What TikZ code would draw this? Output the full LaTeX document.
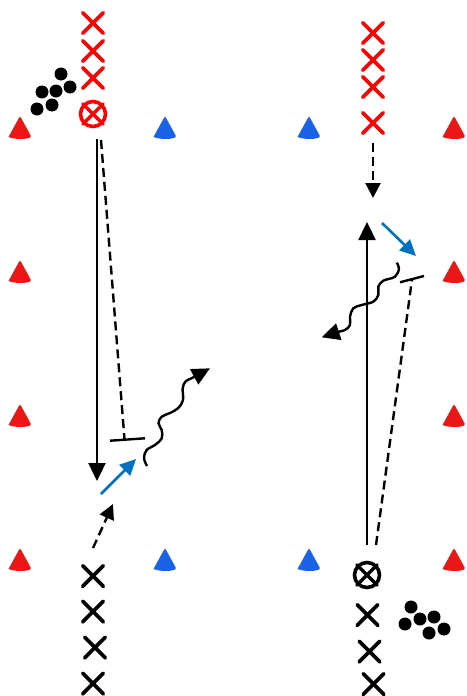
\documentclass[tikz,border=0pt]{standalone}
\usetikzlibrary{arrows.meta,shapes.misc}
\definecolor{conered}{RGB}{235,22,22}
\definecolor{coneblue}{RGB}{28,98,230}
\definecolor{passblue}{RGB}{0,112,192}
\definecolor{xred}{RGB}{255,0,0}
\begin{document}
\begin{tikzpicture}[x=1pt,y=-1pt,
  xmark/.style={cross out,draw,minimum size=17pt,inner sep=0pt,line width=3.8pt,line cap=round},
  oxmark/.style={circle,draw,minimum size=25pt,inner sep=0pt,line width=3.6pt},
  ball/.style={circle,fill=black,minimum size=13pt,inner sep=0pt},
  tip/.style={-{Triangle[length=18pt,width=17pt]}},
  smalltip/.style={-{Triangle[length=15pt,width=15pt]}},
  run/.style={line width=2.4pt,tip},
  dashrun/.style={line width=2.4pt,dash pattern=on 9pt off 5pt},
  pass/.style={line width=2.6pt,passblue,-{Triangle[length=16pt,width=15pt]}},
  barline/.style={line width=2.4pt},
  cone/.pic={\fill[#1,rounded corners=2pt] (-11.5,9.5) -- (0,-11.5) -- (11.5,9.5) [sharp corners] .. controls (5,12) and (-5,12) .. (-11.5,9.5) -- cycle;}
]
\useasboundingbox (0,0) rectangle (466,696);

% cones
\pic (c1) at (20,127.5) {cone=conered};
\pic (c2) at (20,271.5) {cone=conered};
\pic (c3) at (20,415.5) {cone=conered};
\pic (c4) at (20,559.5) {cone=conered};
\pic (c5) at (454,127.5) {cone=conered};
\pic (c6) at (454,271.5) {cone=conered};
\pic (c7) at (454,415.5) {cone=conered};
\pic (c8) at (454,559.5) {cone=conered};
\pic (b1) at (165,127.5) {cone=coneblue};
\pic (b2) at (309,127.5) {cone=coneblue};
\pic (b3) at (165,559.5) {cone=coneblue};
\pic (b4) at (309,559.5) {cone=coneblue};

% left red players
\node[xmark,xred] (lr1) at (93,23) {};
\node[xmark,xred] (lr2) at (93,51) {};
\node[xmark,xred] (lr3) at (93,78) {};
\node[oxmark,xred] (lro) at (93,114) {};
\draw[xred,line width=3.4pt,line cap=round] (lro.45) -- (lro.225) (lro.135) -- (lro.-45);

% right red players
\node[xmark,xred] (rr1) at (373,33) {};
\node[xmark,xred] (rr2) at (373,60) {};
\node[xmark,xred] (rr3) at (373,87) {};
\node[xmark,xred] (rr4) at (373,123) {};

% left black players
\node[xmark] (lb1) at (93,576) {};
\node[xmark] (lb2) at (93,611.5) {};
\node[xmark] (lb3) at (95,647.5) {};
\node[xmark] (lb4) at (93,683.5) {};

% right black players
\node[oxmark] (rbo) at (367,575) {};
\draw[line width=3.4pt,line cap=round] (rbo.45) -- (rbo.225) (rbo.135) -- (rbo.-45);
\node[xmark] (rb1) at (367.5,615) {};
\node[xmark] (rb2) at (369.5,651.5) {};
\node[xmark] (rb3) at (373.5,684) {};

% balls
\foreach \n/\p in {l1/{(61,74)},l2/{(42,92)},l3/{(56,91)},l4/{(70,87)},l5/{(37,109)},l6/{(52,105)},
                   r1/{(411,607)},r2/{(405,624)},r3/{(420,619)},r4/{(434,617)},r5/{(429,633)},r6/{(444,629)}}
  \node[ball] (ball\n) at \p {};

% ---- left drill ----
\coordinate (lsA) at (97,139);
\coordinate (lsB) at (97,481);
\draw[run] (lsA) -- (lsB);
\coordinate (ldA) at (101,140);
\coordinate (lbarL) at (110,440.7);
\coordinate (lbarR) at (145,438.3);
\coordinate (ldB) at (124.5,439.5);
\draw[dashrun] (ldA) -- (ldB);
\draw[barline] (lbarL) -- (lbarR);
\coordinate (lpA) at (101,494);
\coordinate (lpB) at (136,459);
\draw[pass] (lpA) -- (lpB);
\coordinate (lqA) at (93,548);
\coordinate (lqB) at (113,504);
\draw[line width=2.4pt,dash pattern=on 9pt off 5pt,smalltip] (lqA) -- (lqB);
\draw[line width=2.4pt,tip] plot[smooth,tension=0.6] coordinates {(147,466) (144,458) (146.7,450) (155,445) (161.7,438.3) (161.7,430) (158.5,423.3) (161.7,416.7) (170,413) (178.3,408) (183,400) (182.7,388.3) (185.5,381.5) (192,378) (210,368.3)};

% ---- right drill ----
\coordinate (rdA) at (373,143);
\coordinate (rdB) at (373,198);
\draw[line width=2.4pt,dash pattern=on 9pt off 5pt,smalltip] (rdA) -- (rdB);
\coordinate (rsA) at (367,545);
\coordinate (rsB) at (367,222);
\draw[run] (rsA) -- (rsB);
\coordinate (rpA) at (382,223);
\coordinate (rpB) at (416,256);
\draw[pass] (rpA) -- (rpB);
\coordinate (rbarL) at (400,282.3);
\coordinate (rbarR) at (424,276);
\coordinate (rtA) at (376,545);
\coordinate (rtB) at (412,279.5);
\draw[dashrun] (rtA) -- (rtB);
\draw[barline] (rbarL) -- (rbarR);
\draw[line width=2.4pt,tip] plot[smooth,tension=0.6] coordinates {(396.7,262.7) (399,268.5) (395,276.7) (383.3,280.7) (378.3,286.7) (378.3,295) (373.3,301.7) (361.7,305) (353.3,308.3) (350,316.7) (350,325) (345,330) (338,332) (321.7,337.3)};
\end{tikzpicture}
\end{document}
